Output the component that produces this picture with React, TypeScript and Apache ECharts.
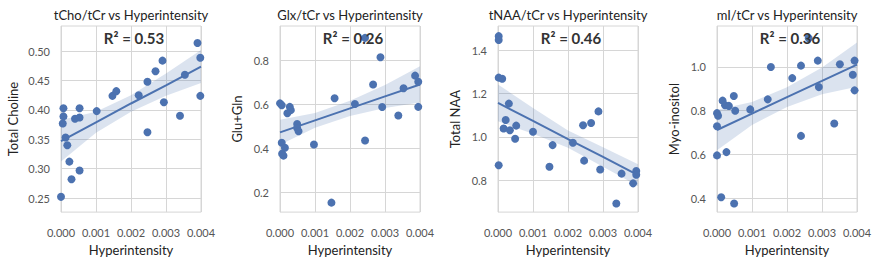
import React, { useEffect, useRef } from "react";
import * as echarts from "echarts";

// ---------- data ----------
const titles = [
  "tCho/tCr vs Hyperintensity",
  "Glx/tCr vs Hyperintensity",
  "tNAA/tCr vs Hyperintensity",
  "mI/tCr vs Hyperintensity",
];
const yNames = ["Total Choline", "Glu+Gln", "Total NAA", "Myo-inositol"];
const r2Labels = ["R² = 0.53", "R² = 0.26", "R² = 0.46", "R² = 0.36"];
const xName = "Hyperintensity";
const xTicks = [0, 0.001, 0.002, 0.003, 0.004];

const yTicks1 = [0.25, 0.3, 0.35, 0.4, 0.45, 0.5];
const yTicks2 = [0.2, 0.4, 0.6, 0.8];
const yTicks3 = [0.8, 1.0, 1.2, 1.4];
const yTicks4 = [0.4, 0.6, 0.8, 1.0];
const yRanges = [
  [0.226, 0.543],
  [0.111, 0.958],
  [0.652, 1.513],
  [0.337, 1.187],
];
const yDecimals = [2, 1, 1, 1];

// panel 1: tCho
const cho_x = [0, 0.00007, 0.00007, 0.00005, 0.00013, 0.00018, 0.00024, 0.0003, 0.0004, 0.00053, 0.00053, 0.00053, 0.00102, 0.00147, 0.00158, 0.00222, 0.00247, 0.00247, 0.0027, 0.0029, 0.00294, 0.0034, 0.00354, 0.0039, 0.00398, 0.00398];
const cho_y = [0.252, 0.403, 0.389, 0.377, 0.353, 0.34, 0.312, 0.282, 0.385, 0.403, 0.387, 0.297, 0.398, 0.424, 0.432, 0.425, 0.448, 0.362, 0.466, 0.484, 0.413, 0.39, 0.46, 0.514, 0.489, 0.424];
const cho_fit = [0.347, 0.379, 0.411, 0.442, 0.474];
const cho_lo = [0.312, 0.361, 0.397, 0.424, 0.446];
const cho_hi = [0.383, 0.397, 0.425, 0.462, 0.502];

// panel 2: Glx
const glx_x = [0, 0.00005, 0.00005, 0.00014, 0.00006, 0.0001, 0.00028, 0.00031, 0.00021, 0.00049, 0.00049, 0.00053, 0.00097, 0.00156, 0.00147, 0.00214, 0.00243, 0.00243, 0.00266, 0.00287, 0.00292, 0.00338, 0.00353, 0.00386, 0.00395, 0.00395];
const glx_y = [0.606, 0.597, 0.427, 0.404, 0.377, 0.368, 0.59, 0.575, 0.561, 0.512, 0.494, 0.479, 0.419, 0.629, 0.154, 0.603, 0.904, 0.437, 0.692, 0.816, 0.589, 0.551, 0.675, 0.732, 0.704, 0.59];
const glx_fit = [0.474, 0.5285, 0.583, 0.6375, 0.692];
const glx_lo = [0.417, 0.495, 0.548, 0.585, 0.61];
const glx_hi = [0.531, 0.562, 0.618, 0.69, 0.775];

// panel 3: tNAA
const naa_x = [0.00002, 0.00002, 0.00002, 0.00012, 0.00002, 0.00022, 0.00031, 0.00016, 0.00034, 0.00052, 0.00049, 0.001, 0.00147, 0.00156, 0.00214, 0.00243, 0.00246, 0.00266, 0.00287, 0.00292, 0.00338, 0.00353, 0.00386, 0.00395, 0.00395];
const naa_y = [1.466, 1.448, 1.274, 1.269, 0.869, 1.078, 1.154, 1.039, 1.031, 1.052, 0.991, 1.024, 0.862, 0.962, 0.973, 1.054, 0.89, 1.064, 1.118, 0.849, 0.692, 0.83, 0.785, 0.842, 0.825];
const naa_fit = [1.157, 1.074, 0.99, 0.907, 0.823];
const naa_lo = [1.072, 1.014, 0.95, 0.862, 0.773];
const naa_hi = [1.242, 1.134, 1.03, 0.952, 0.873];

// panel 4: mI
const mi_x = [0, 0.00003, 0, 0, 0.00012, 0.00049, 0.00016, 0.00023, 0.00034, 0.00048, 0.00052, 0.00027, 0.00095, 0.00145, 0.00154, 0.00215, 0.0024, 0.0024, 0.00262, 0.00288, 0.00291, 0.00335, 0.00351, 0.00388, 0.00393, 0.00393];
const mi_y = [0.789, 0.777, 0.729, 0.596, 0.405, 0.376, 0.846, 0.825, 0.822, 0.867, 0.8, 0.611, 0.806, 0.852, 1.0, 0.949, 1.006, 0.685, 1.131, 1.029, 0.908, 0.742, 1.012, 0.964, 1.029, 0.893];
const mi_fit = [0.712, 0.787, 0.862, 0.936, 1.011];
const mi_lo = [0.62, 0.735, 0.817, 0.875, 0.91];
const mi_hi = [0.805, 0.84, 0.907, 0.997, 1.112];

const pointsX = [cho_x, glx_x, naa_x, mi_x];
const pointsY = [cho_y, glx_y, naa_y, mi_y];
const fits = [cho_fit, glx_fit, naa_fit, mi_fit];
const bandLo = [cho_lo, glx_lo, naa_lo, mi_lo];
const bandHi = [cho_hi, glx_hi, naa_hi, mi_hi];
const yTicks = [yTicks1, yTicks2, yTicks3, yTicks4];

// ---------- style ----------
const FONT = 'Lato, "Noto Sans", sans-serif';
const BLUE = "#4c72b0";
const GRIDC = "#d6d6d6";
const lefts = [61, 280, 498, 717];
const TOP = 26;
const W = 140;
const H = 188;

export default function App() {
  const ref = useRef<HTMLDivElement>(null);
  useEffect(() => {
    if (!ref.current) return;
    const chart = echarts.init(ref.current, undefined, { renderer: "svg" });
    const grid: any[] = [];
    const xAxis: any[] = [];
    const yAxis: any[] = [];
    const series: any[] = [];
    const graphic: any[] = [];

    for (let i = 0; i < 4; i++) {
      grid.push({
        left: lefts[i],
        top: TOP,
        width: W,
        height: H,
        show: true,
        borderColor: GRIDC,
        borderWidth: 1,
        backgroundColor: "#fff",
      });
      xAxis.push({
        type: "value",
        gridIndex: i,
        min: 0,
        max: 0.004,
        interval: 0.001,
        axisLine: { show: false },
        axisTick: { show: false },
        splitLine: { show: true, lineStyle: { color: GRIDC, width: 1 } },
        axisLabel: {
          formatter: (v: number) => v.toFixed(3),
          fontSize: 11,
          color: "#555",
          margin: 15,
          fontFamily: FONT,
        },
        name: xName,
        nameLocation: "middle",
        nameGap: 29,
        nameTextStyle: { fontSize: 13, color: "#222", fontFamily: FONT },
      });
      const dec = yDecimals[i];
      yAxis.push({
        type: "value",
        gridIndex: i,
        min: yRanges[i][0],
        max: yRanges[i][1],
        axisLine: { show: false },
        axisTick: { show: false, customValues: yTicks[i] },
        splitLine: { show: true, lineStyle: { color: GRIDC, width: 1 } },
        axisLabel: {
          customValues: yTicks[i],
          formatter: (v: number) => v.toFixed(dec),
          fontSize: 11,
          color: "#555",
          margin: 11,
          fontFamily: FONT,
        },
        name: yNames[i],
        nameLocation: "middle",
        nameGap: i === 0 ? 42 : 37,
        nameTextStyle: { fontSize: 13, color: "#222", fontFamily: FONT },
      });

      const lo = bandLo[i];
      const hi = bandHi[i];
      series.push({
        type: "custom",
        xAxisIndex: i,
        yAxisIndex: i,
        clip: true,
        z: 1,
        silent: true,
        data: xTicks.map((x, k) => [x, lo[k], hi[k]]),
        renderItem: (params: any, api: any) => {
          if (params.dataIndex !== 0) return null;
          const up = xTicks.map((x, k) => api.coord([x, hi[k]]));
          const dn = xTicks.map((x, k) => api.coord([x, lo[k]])).reverse();
          return {
            type: "polygon",
            shape: { points: up.concat(dn) },
            style: { fill: "rgba(76,114,176,0.2)", stroke: "none" },
          };
        },
      });
      series.push({
        type: "line",
        xAxisIndex: i,
        yAxisIndex: i,
        z: 3,
        showSymbol: false,
        silent: true,
        lineStyle: { color: BLUE, width: 2 },
        data: xTicks.map((x, k) => [x, fits[i][k]]),
      });
      series.push({
        type: "scatter",
        xAxisIndex: i,
        yAxisIndex: i,
        z: 4,
        clip: true,
        symbolSize: 8,
        itemStyle: { color: BLUE, opacity: 1 },
        data: pointsX[i].map((x, k) => [x, pointsY[i][k]]),
      });

      graphic.push({
        type: "text",
        x: lefts[i] + W / 2,
        y: 15,
        z: 10,
        style: {
          text: titles[i],
          align: "center",
          verticalAlign: "middle",
          fontSize: 13,
          fontFamily: FONT,
          fill: "#222",
        },
      });
      graphic.push({
        type: "text",
        x: lefts[i] + W / 2 + 3,
        y: 38,
        z: 10,
        style: {
          text: r2Labels[i],
          align: "center",
          verticalAlign: "middle",
          fontSize: 15,
          fontWeight: "bold",
          fontFamily: FONT,
          fill: "#333",
        },
      });
    }

    chart.setOption({
      animation: false,
      backgroundColor: "#fff",
      grid,
      xAxis,
      yAxis,
      series,
      graphic,
    });
    return () => chart.dispose();
  }, []);

  return (
    <div
      ref={ref}
      style={{ position: "fixed", left: 0, top: 0, width: 877, height: 261 }}
    />
  );
}
